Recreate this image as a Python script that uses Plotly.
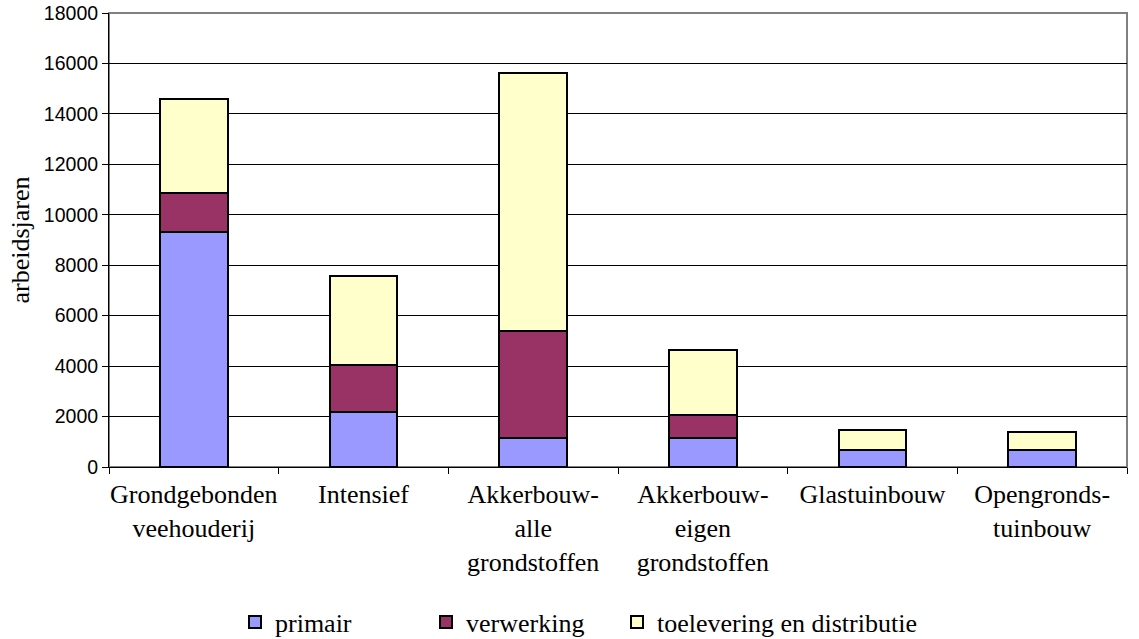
import plotly.graph_objects as go

categories = [
    "Grondgebonden<br>veehouderij",
    "Intensief",
    "Akkerbouw-<br>alle<br>grondstoffen",
    "Akkerbouw-<br>eigen<br>grondstoffen",
    "Glastuinbouw",
    "Opengronds-<br>tuinbouw",
]
primair = [9300, 2180, 1140, 1140, 660, 660]
verwerking = [1550, 1880, 4270, 940, 0, 0]
toelevering = [3730, 3500, 10210, 2550, 820, 720]

y_ticks = [0, 2000, 4000, 6000, 8000, 10000, 12000, 14000, 16000, 18000]

serif = "Liberation Serif, Times New Roman, serif"
sans = "Liberation Sans, Arial, sans-serif"

W, H = 1139, 639

series = [
    ("primair", primair, "#9999FF", "legend", 235),
    ("verwerking", verwerking, "#993366", "legend2", 426),
    ("toelevering en distributie", toelevering, "#FFFFCC", "legend3", 617),
]

fig = go.Figure()
legends = {}
for name, vals, col, leg, xpx in series:
    fig.add_trace(go.Bar(
        x=categories, y=vals, name=name,
        marker=dict(color=col, line=dict(color="#000000", width=2)),
        width=0.4, legend=leg,
    ))
    legends[leg] = dict(
        orientation="h",
        xref="container", yref="container",
        x=xpx / W, xanchor="left",
        y=(H - 622) / H, yanchor="middle",
        font=dict(family=serif, size=26, color="black"),
        bgcolor="rgba(0,0,0,0)",
    )

fig.update_layout(
    barmode="stack",
    width=W, height=H,
    margin=dict(l=109, r=12, t=13, b=172, autoexpand=False),
    paper_bgcolor="white", plot_bgcolor="rgba(0,0,0,0)",
    showlegend=True,
    shapes=[dict(type="rect", xref="paper", yref="paper", x0=0, y0=0, x1=1, y1=1,
                 line=dict(color="#808080", width=2), layer="below")],
    **legends,
)
fig.update_xaxes(
    showline=True, linecolor="black", linewidth=1,
    ticks="outside", ticklen=6, tickcolor="black", tickson="boundaries",
    tickangle=0, automargin=False, ticklabelstandoff=4,
    tickfont=dict(family=serif, size=26, color="black"),
    showgrid=False,
)
fig.update_yaxes(
    range=[0, 18000], tickvals=y_ticks, ticktext=[str(v) for v in y_ticks],
    showline=True, linecolor="black", linewidth=1,
    ticks="outside", ticklen=6, tickcolor="black", automargin=False,
    tickfont=dict(family=sans, size=19.5, color="black"),
    showgrid=True, gridcolor="black", gridwidth=1,
    zeroline=False,
    title=dict(text="arbeidsjaren", font=dict(family=serif, size=26, color="black"), standoff=6),
)

fig.write_html("out.html", config={"displayModeBar": False},
               post_script="document.body.style.margin='0';")
